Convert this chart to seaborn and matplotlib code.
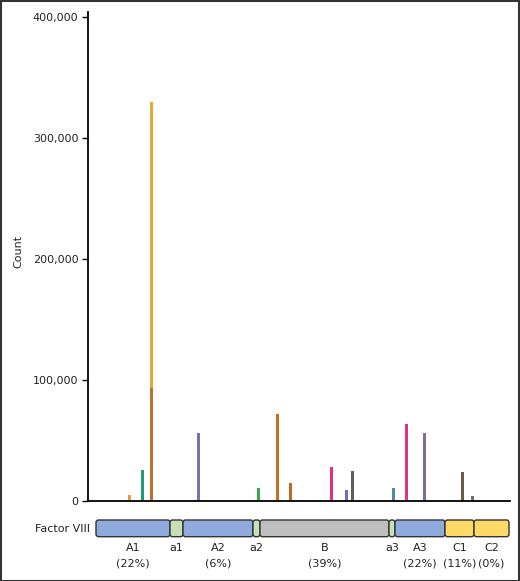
import numpy as np
import pandas as pd
import matplotlib
matplotlib.use("Agg")
import matplotlib.pyplot as plt
import seaborn as sns
from matplotlib.patches import FancyBboxPatch, Rectangle
from matplotlib.ticker import FuncFormatter

# ---- data ----
positions = [41, 54, 63.5, 63.5, 110, 170, 189, 202, 243, 258, 264, 305, 318, 336, 374, 384]
counts = [5000, 26000, 330000, 93000, 56000, 11000, 72000, 15000,
          28000, 9000, 25000, 10500, 64000, 56000, 24000, 4000]
bar_colors = ["#e0a030", "#1f9a74", "#e8a92a", "#c0702a", "#7a6fb0", "#3aa84e",
              "#cc6a1e", "#c0671f", "#e0318a", "#6f6fb5", "#5f5f5f", "#4f88a8",
              "#e0318a", "#7b7090", "#6a5c45", "#707070"]

domain_names = ["A1", "a1", "A2", "a2", "B", "a3", "A3", "C1", "C2"]
domain_pct = ["(22%)", "", "(6%)", "", "(39%)", "", "(22%)", "(11%)", "(0%)"]
domain_start = [8, 82, 95, 165, 172, 301, 307, 357, 386]
domain_end = [82, 95, 165, 172, 301, 307, 357, 386, 421]
domain_colors = ["#8faadc", "#c5e0b4", "#8faadc", "#c5e0b4", "#bfbfbf",
                 "#c5e0b4", "#8faadc", "#ffd966", "#ffd966"]

yticks = [0, 100000, 200000, 300000, 400000]

sns.set_theme(style="white")
plt.rcParams["font.family"] = ["DejaVu Sans"]

W, H = 520, 581
fig = plt.figure(figsize=(W / 100, H / 100), dpi=100)

# main axes: x 88..510 px, y 11.5..501 px
ax = fig.add_axes([88 / W, (H - 501) / H, 422 / W, (501 - 11.5) / H])
df = pd.DataFrame({"pos": positions, "count": counts,
                   "id": [f"b{i}" for i in range(len(counts))]})
sns.barplot(data=df, x="pos", y="count", hue="id", palette=bar_colors,
            native_scale=True, dodge=False, width=0.5, errorbar=None,
            legend=False, ax=ax, linewidth=0, saturation=1)
ax.set_xlim(0, 422)
ax.set_ylim(0, 404500)
ax.set_yticks(yticks)
ax.yaxis.set_major_formatter(FuncFormatter(lambda v, p: f"{int(v):,}"))
ax.set_xticks([])
ax.set_xlabel("")
ax.set_ylabel("Count", fontsize=8,
              family=["Liberation Sans Narrow", "DejaVu Sans"])
ax.yaxis.set_label_coords(-0.153, 0.51)
ax.tick_params(axis="y", direction="out", length=4, width=1, color="black",
               labelsize=8, labelcolor="#222222", pad=3, left=True)
for s in ["top", "right"]:
    ax.spines[s].set_visible(False)
for s in ["left", "bottom"]:
    ax.spines[s].set_color("black")
    ax.spines[s].set_linewidth(1.3)

# schematic axes
ax2 = fig.add_axes([88 / W, 0, 422 / W, (H - 513) / H])
ax2.set_xlim(0, 422)
ax2.set_ylim(H, 513)
ax2.axis("off")
for s0, s1, c, nm, pc in zip(domain_start, domain_end, domain_colors, domain_names, domain_pct):
    ax2.add_patch(FancyBboxPatch((s0, 520), s1 - s0, 16.7,
                                 boxstyle="round,pad=0,rounding_size=2.5",
                                 facecolor=c, edgecolor="#333333", linewidth=1.0))
    cx = (s0 + s1) / 2
    ax2.text(cx, 548, nm, ha="center", va="center", fontsize=8, color="#222222")
    if pc:
        ax2.text(cx, 563, pc, ha="center", va="center", fontsize=8, color="#222222")
ax2.text(2, 528.5, "Factor VIII", ha="right", va="center", fontsize=8,
         color="#222222", clip_on=False)

fig.patches.append(Rectangle((0.5 / W, 0.5 / H), 1 - 1.5 / W, 1 - 1.5 / H,
                             transform=fig.transFigure, fill=False,
                             edgecolor="#333333", linewidth=1.5))

fig.savefig("out.png", dpi=100)
